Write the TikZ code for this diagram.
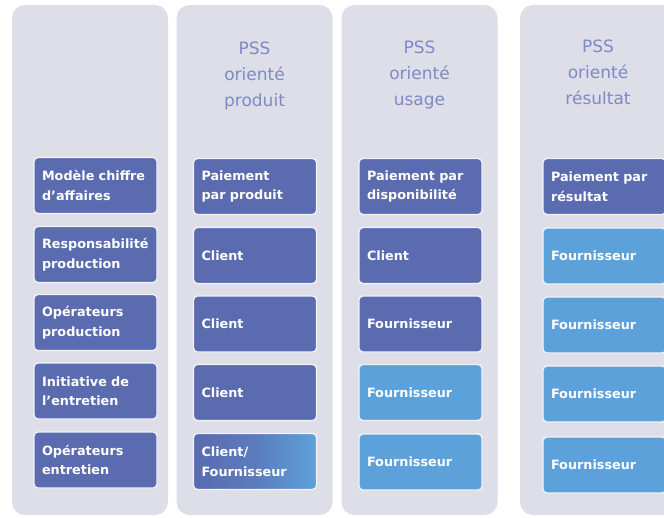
\documentclass[tikz,border=0pt]{standalone}
\usepackage{fontspec}
\setmainfont{DejaVu Sans}
\definecolor{colfill}{HTML}{DDDEE8}
\definecolor{darkbox}{HTML}{5A6BB0}
\definecolor{lightbox}{HTML}{5DA1DB}
\definecolor{headtxt}{HTML}{7F89C3}
\definecolor{boxedge}{HTML}{F2F3F8}
\tikzset{
  colbox/.style={draw=none, fill=colfill, rounded corners=13pt, minimum width=156pt, minimum height=510pt, inner sep=0pt},
  headtext/.style={text=headtxt, align=center, font=\fontsize{17}{26}\selectfont},
  cellbox/.style={draw=boxedge, line width=1.3pt, rounded corners=4pt, inner xsep=8pt, inner ysep=0pt,
    text width=107pt, minimum height=56pt, align=left, text=white,
    font=\bfseries\fontsize{12.8}{19.5}\selectfont},
  darkcell/.style={cellbox, fill=darkbox},
  lightcell/.style={cellbox, fill=lightbox},
  mixcell/.style={cellbox, left color=darkbox, right color=lightbox, middle color=darkbox!70!lightbox}
}
\begin{document}
\begin{tikzpicture}[x=1pt,y=-1pt]
\useasboundingbox (0,0) rectangle (664,517);
\clip (0,0) rectangle (664,517);
\fill[white] (0,0) rectangle (664,517);
% columns
\node[colbox] (c1) at (90,260) {};
\node[colbox] (c2) at (254.5,260) {};
\node[colbox] (c3) at (419.5,260) {};
\node[colbox] (c4) at (598,260) {};
% headers
\node[headtext] (h2) at (254.5,76) {PSS\\orienté\\produit};
\node[headtext] (h3) at (419.5,75) {PSS\\orienté\\usage};
\node[headtext] (h4) at (598,72) {PSS\\orienté\\résultat};
% column 1
\node[darkcell] (a1) at (95.5,185.5) {Modèle chiffre\\d'affaires};
\node[darkcell] (a2) at (95.5,254.5) {Responsabilité\\production};
\node[darkcell] (a3) at (95.5,322.5) {Opérateurs\\production};
\node[darkcell] (a4) at (95.5,391) {Initiative de\\l'entretien};
\node[darkcell] (a5) at (95.5,460) {Opérateurs\\entretien};
% column 2
\node[darkcell] (b1) at (255,186.5) {Paiement\\par produit};
\node[darkcell] (b2) at (255,255.5) {Client};
\node[darkcell] (b3) at (255,324) {Client};
\node[darkcell] (b4) at (255,392.5) {Client};
\node[mixcell] (b5) at (255,461.5) {Client/\\Fournisseur};
% column 3
\node[darkcell] (d1) at (420.5,186.5) {Paiement par\\disponibilité};
\node[darkcell] (d2) at (420.5,255.5) {Client};
\node[darkcell] (d3) at (420.5,324) {Fournisseur};
\node[lightcell] (d4) at (420.5,392.5) {Fournisseur};
\node[lightcell] (d5) at (420.5,462) {Fournisseur};
% column 4
\node[darkcell] (e1) at (604.5,186.5) {Paiement par\\résultat};
\node[lightcell] (e2) at (604.5,256) {Fournisseur};
\node[lightcell] (e3) at (604.5,325) {Fournisseur};
\node[lightcell] (e4) at (604.5,394) {Fournisseur};
\node[lightcell] (e5) at (604.5,465) {Fournisseur};
\end{tikzpicture}
\end{document}
